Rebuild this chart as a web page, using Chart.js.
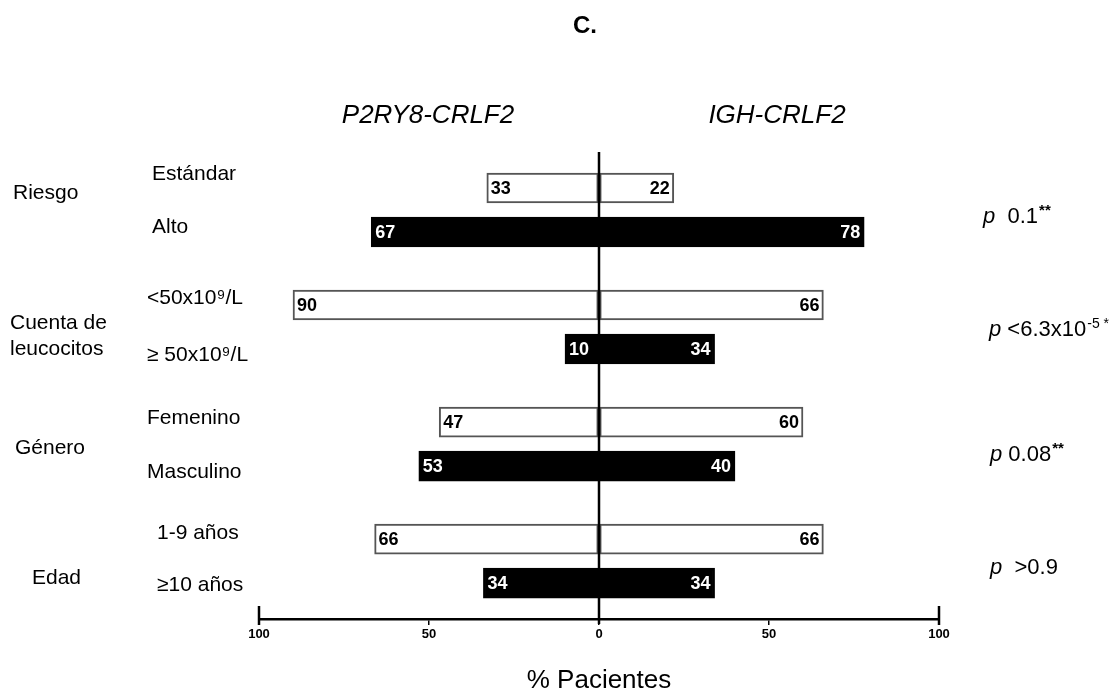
<!DOCTYPE html>
<html>
<head>
<meta charset="utf-8">
<script src="https://cdn.jsdelivr.net/npm/chart.js@4/dist/chart.umd.min.js"></script>
<style>
  body { margin: 0; background: #fff; }
</style>
</head>
<body>
<canvas id="myChart" width="1118" height="694"></canvas>
<script>
// data
var groups = ['Riesgo', 'Cuenta de\nleucocitos', 'Género', 'Edad'];
var rows = ['Estándar', 'Alto', '<50x10⁹/L', '≥ 50x10⁹/L', 'Femenino', 'Masculino', '1-9 años', '≥10 años'];
var p2ry8 = [33, 67, 90, 10, 47, 53, 66, 34];
var igh = [22, 78, 66, 34, 60, 40, 66, 34];
var pMain = ['  0.1', ' <6.3x10', ' 0.08', '  >0.9'];
var pSup = ['**', '-5 *', '**', ''];
var xTicks = [-100, -50, 0, 50, 100];

var FONT = '"Liberation Sans", Arial, "DejaVu Sans", sans-serif';

// layout: two rows per group, extra gap between groups
function rowPos(i) { return Math.floor(i / 2) * 2.66 + (i % 2); }

// text positions (px)
var groupPos = [[13, 193], [10, 323], [15, 448], [32, 578]];
var rowLabelPos = [[152, 174], [152, 227], [147, 298], [147, 355], [147, 418], [147, 472], [157, 533], [157, 585]];
var pPos = [[983, 217], [989, 330], [990, 455], [990, 568]];

var fills = rows.map(function (r, i) { return i % 2 ? '#000' : '#fff'; });
var edges = rows.map(function (r, i) { return i % 2 ? '#000' : '#555'; });

function barData(vals, side) {
  return vals.map(function (v, i) {
    return { y: rowPos(i), x: side < 0 ? [-v, 0] : [0, v] };
  });
}

// labels, headers, zero line
var decor = {
  id: 'decor',
  afterDatasetsDraw: function (chart) {
    var ctx = chart.ctx;
    var xs = chart.scales.x;
    var area = chart.chartArea;
    ctx.save();

    // values inside bars
    ctx.font = 'bold 18px ' + FONT;
    ctx.textBaseline = 'middle';
    chart.data.datasets.forEach(function (ds, di) {
      var meta = chart.getDatasetMeta(di);
      var vals = di === 0 ? p2ry8 : igh;
      meta.data.forEach(function (el, i) {
        var dir = el.x < el.base ? -1 : 1;
        ctx.textAlign = dir < 0 ? 'left' : 'right';
        ctx.fillStyle = i % 2 ? '#fff' : '#000';
        ctx.fillText(String(vals[i]), el.x - dir * 4, el.y + 1);
      });
    });

    // zero line
    var x0 = xs.getPixelForValue(0);
    ctx.strokeStyle = '#000';
    ctx.lineWidth = 2.5;
    ctx.beginPath();
    ctx.moveTo(x0, area.top);
    ctx.lineTo(x0, area.bottom + 5);
    ctx.stroke();

    // taller end ticks
    [xs.min, xs.max].forEach(function (v) {
      var px = xs.getPixelForValue(v);
      ctx.beginPath();
      ctx.moveTo(px, area.bottom - 13);
      ctx.lineTo(px, area.bottom + 6);
      ctx.stroke();
    });

    ctx.fillStyle = '#000';
    ctx.textAlign = 'left';

    // group and row labels
    ctx.font = '21px ' + FONT;
    groups.forEach(function (g, i) {
      g.split('\n').forEach(function (line, k) {
        ctx.fillText(line, groupPos[i][0], groupPos[i][1] + k * 26);
      });
    });
    rows.forEach(function (r, i) {
      ctx.fillText(r, rowLabelPos[i][0], rowLabelPos[i][1]);
    });

    // p values
    pMain.forEach(function (t, i) {
      var x = pPos[i][0], y = pPos[i][1];
      ctx.font = 'italic 22px ' + FONT;
      ctx.fillText('p', x, y);
      x += ctx.measureText('p').width;
      ctx.font = '22px ' + FONT;
      ctx.fillText(t, x, y);
      x += ctx.measureText(t).width;
      if (pSup[i]) {
        ctx.font = (pSup[i] === '**' ? 'bold 15px ' : '14px ') + FONT;
        ctx.fillText(pSup[i], x + 1, y - 6);
      }
    });

    // headers
    ctx.textAlign = 'center';
    ctx.font = 'italic 26px ' + FONT;
    ctx.fillText('P2RY8-CRLF2', 428, 116);
    ctx.fillText('IGH-CRLF2', 777, 116);
    ctx.font = 'bold 24px ' + FONT;
    ctx.fillText('C.', 585, 26);

    ctx.restore();
  }
};

var ctx = document.getElementById('myChart').getContext('2d');
var myChart = new Chart(ctx, {
  type: 'bar',
  data: {
    datasets: [{
      label: 'P2RY8-CRLF2',
      data: barData(p2ry8, -1),
      backgroundColor: fills,
      borderColor: edges,
      borderWidth: 2,
      borderSkipped: false,
      barThickness: 30,
      grouped: false
    }, {
      label: 'IGH-CRLF2',
      data: barData(igh, 1),
      backgroundColor: fills,
      borderColor: edges,
      borderWidth: 2,
      borderSkipped: false,
      barThickness: 30,
      grouped: false
    }]
  },
  options: {
    indexAxis: 'y',
    responsive: false,
    animation: false,
    events: [],
    layout: { padding: { left: 259, right: 179, top: 152, bottom: 0 } },
    plugins: {
      legend: { display: false },
      tooltip: { enabled: false }
    },
    scales: {
      y: {
        type: 'linear',
        reverse: true,
        offset: false,
        min: -0.818,
        max: 9.795,
        display: false
      },
      x: {
        type: 'linear',
        min: -100,
        max: 100,
        afterBuildTicks: function (scale) {
          scale.ticks = xTicks.map(function (v) { return { value: v }; });
        },
        afterFit: function (scale) { scale.height = 75; },
        ticks: {
          callback: function (v) { return Math.abs(v); },
          font: { family: FONT, size: 13, weight: 'bold' },
          color: '#000',
          padding: 2,
          maxRotation: 0,
          autoSkip: false
        },
        grid: {
          drawOnChartArea: false,
          drawTicks: true,
          tickLength: 6,
          color: '#000',
          lineWidth: 1.5
        },
        border: { display: true, color: '#000', width: 2.5 },
        title: {
          display: true,
          text: '% Pacientes',
          color: '#000',
          font: { family: FONT, size: 26, lineHeight: 1 },
          padding: 0
        }
      }
    }
  },
  plugins: [decor]
});
</script>
</body>
</html>
